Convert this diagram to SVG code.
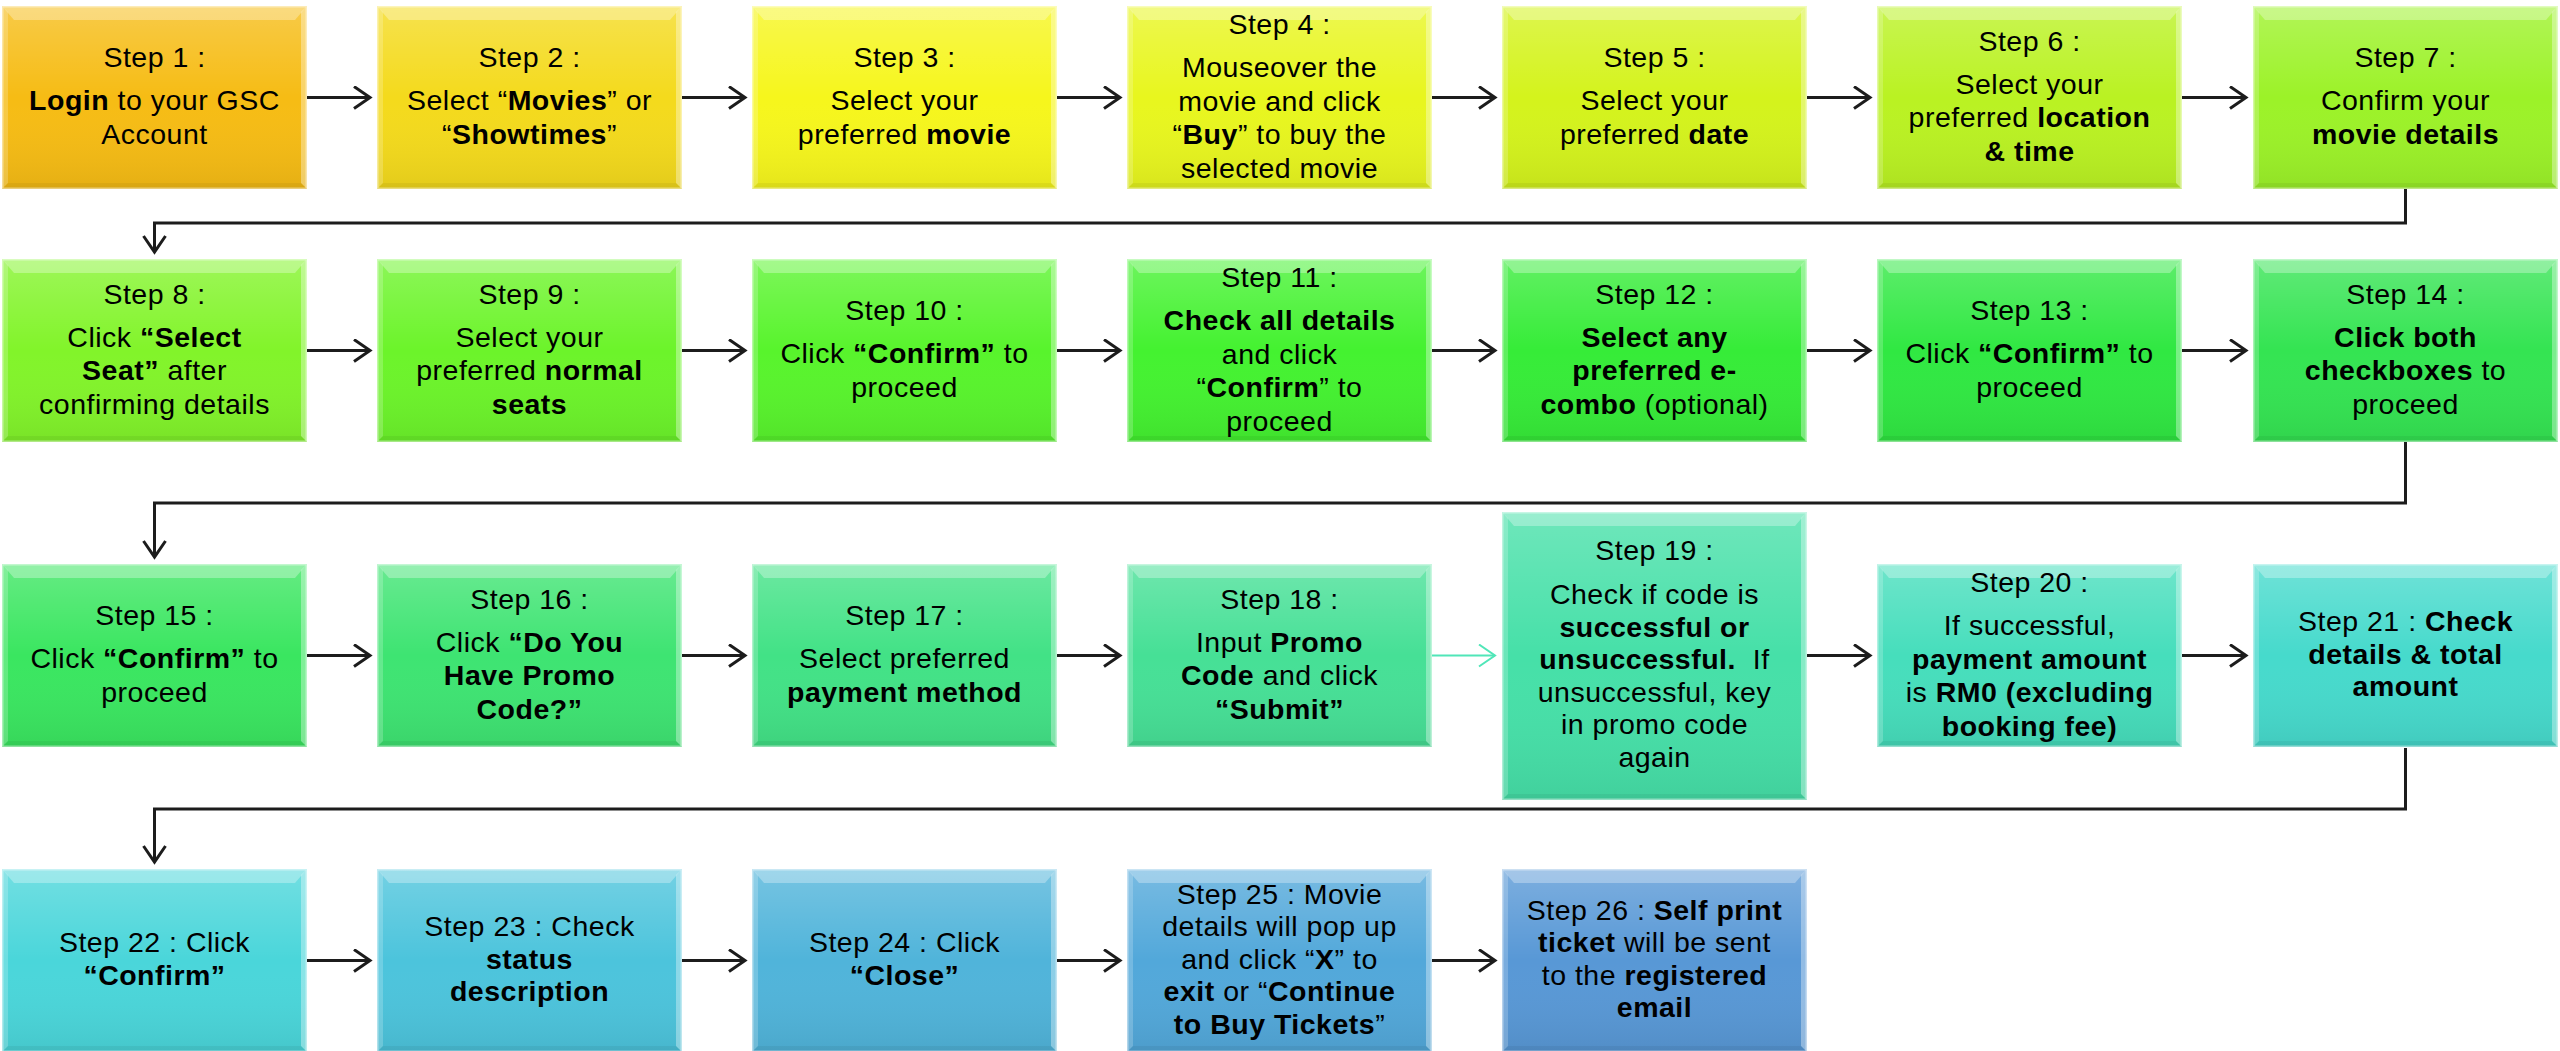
<svg xmlns="http://www.w3.org/2000/svg" xmlns:xlink="http://www.w3.org/1999/xlink" width="2560" height="1051" viewBox="0 0 2560 1051">
<defs>
<style>
.t{font-family:"Liberation Sans",Arial,sans-serif;font-size:28.5px;letter-spacing:0.5px;fill:#000;text-anchor:middle}
.b{font-weight:700}
.conn{fill:none;stroke:#1c1c1c;stroke-width:3}
.conn2{fill:none;stroke:#50e6b8;stroke-width:2}
</style>
<linearGradient id="shade" x1="0" y1="0" x2="0" y2="1">
<stop offset="0" stop-color="#fff" stop-opacity="0.22"/>
<stop offset="0.5" stop-color="#fff" stop-opacity="0"/>
<stop offset="1" stop-color="#000" stop-opacity="0.07"/>
</linearGradient>
<g id="bev">
<rect width="305" height="183" fill="url(#shade)"/>
<polygon points="0,0 305,0 293,14 12,14" fill="#fff" fill-opacity="0.3"/>
<polygon points="0,0 6,6 6,177 0,183" fill="#fff" fill-opacity="0.2"/>
<polygon points="305,0 299,6 299,177 305,183" fill="#fff" fill-opacity="0.35"/>
<polygon points="0,183 6,177 299,177 305,183" fill="#000" fill-opacity="0.05"/>
<rect x="0.75" y="0.75" width="303.5" height="181.5" fill="none" stroke="#fff" stroke-opacity="0.45" stroke-width="1.5"/>
</g>
<g id="bev2">
<rect width="305" height="288" fill="url(#shade)"/>
<polygon points="0,0 305,0 293,14 12,14" fill="#fff" fill-opacity="0.3"/>
<polygon points="0,0 6,6 6,282 0,288" fill="#fff" fill-opacity="0.2"/>
<polygon points="305,0 299,6 299,282 305,288" fill="#fff" fill-opacity="0.35"/>
<polygon points="0,288 6,282 299,282 305,288" fill="#000" fill-opacity="0.05"/>
<rect x="0.75" y="0.75" width="303.5" height="286.5" fill="none" stroke="#fff" stroke-opacity="0.45" stroke-width="1.5"/>
</g>
<marker id="ah" markerUnits="userSpaceOnUse" markerWidth="20" markerHeight="26" viewBox="0 0 20 26" refX="17" refY="12" orient="auto">
<path d="M1,1 L17,12 L1,23" fill="none" stroke="#1c1c1c" stroke-width="3"/>
</marker>
<marker id="ah2" markerUnits="userSpaceOnUse" markerWidth="20" markerHeight="26" viewBox="0 0 20 26" refX="17" refY="12" orient="auto">
<path d="M1,1 L17,12 L1,23" fill="none" stroke="#50e6b8" stroke-width="2"/>
</marker>
</defs>
<rect width="2560" height="1051" fill="#fff"/>

<g id="connectors">
<path class="conn" marker-end="url(#ah)" d="M307,97.5 H370"/>
<path class="conn" marker-end="url(#ah)" d="M682,97.5 H745"/>
<path class="conn" marker-end="url(#ah)" d="M1057,97.5 H1120"/>
<path class="conn" marker-end="url(#ah)" d="M1432,97.5 H1495"/>
<path class="conn" marker-end="url(#ah)" d="M1807,97.5 H1870"/>
<path class="conn" marker-end="url(#ah)" d="M2182,97.5 H2246"/>
<path class="conn" marker-end="url(#ah)" d="M2405.5,189 V223 H154.5 V252"/>
<path class="conn" marker-end="url(#ah)" d="M307,350.5 H370"/>
<path class="conn" marker-end="url(#ah)" d="M682,350.5 H745"/>
<path class="conn" marker-end="url(#ah)" d="M1057,350.5 H1120"/>
<path class="conn" marker-end="url(#ah)" d="M1432,350.5 H1495"/>
<path class="conn" marker-end="url(#ah)" d="M1807,350.5 H1870"/>
<path class="conn" marker-end="url(#ah)" d="M2182,350.5 H2246"/>
<path class="conn" marker-end="url(#ah)" d="M2405.5,442 V503 H154.5 V557"/>
<path class="conn" marker-end="url(#ah)" d="M307,655.5 H370"/>
<path class="conn" marker-end="url(#ah)" d="M682,655.5 H745"/>
<path class="conn" marker-end="url(#ah)" d="M1057,655.5 H1120"/>
<path class="conn2" marker-end="url(#ah2)" d="M1432,655.5 H1495"/>
<path class="conn" marker-end="url(#ah)" d="M1807,655.5 H1870"/>
<path class="conn" marker-end="url(#ah)" d="M2182,655.5 H2246"/>
<path class="conn" marker-end="url(#ah)" d="M2405.5,748 V809 H154.5 V862"/>
<path class="conn" marker-end="url(#ah)" d="M307,960.5 H370"/>
<path class="conn" marker-end="url(#ah)" d="M682,960.5 H745"/>
<path class="conn" marker-end="url(#ah)" d="M1057,960.5 H1120"/>
<path class="conn" marker-end="url(#ah)" d="M1432,960.5 H1495"/>
</g>

<g id="step1" transform="translate(2,6)">
<rect width="305" height="183" fill="#f6bc14"/><use xlink:href="#bev"/>
<text class="t" x="152.5" y="61">Step 1 :</text>
<text class="t" x="152.5" y="104"><tspan class="b">Login</tspan> to your GSC</text>
<text class="t" x="152.5" y="138">Account</text>
</g>
<g id="step2" transform="translate(377,6)">
<rect width="305" height="183" fill="#f4da1c"/><use xlink:href="#bev"/>
<text class="t" x="152.5" y="61">Step 2 :</text>
<text class="t" x="152.5" y="104">Select “<tspan class="b">Movies</tspan>” or</text>
<text class="t" x="152.5" y="138">“<tspan class="b">Showtimes</tspan>”</text>
</g>
<g id="step3" transform="translate(752,6)">
<rect width="305" height="183" fill="#f6f61c"/><use xlink:href="#bev"/>
<text class="t" x="152.5" y="61">Step 3 :</text>
<text class="t" x="152.5" y="104">Select your</text>
<text class="t" x="152.5" y="138">preferred <tspan class="b">movie</tspan></text>
</g>
<g id="step4" transform="translate(1127,6)">
<rect width="305" height="183" fill="#e8f61e"/><use xlink:href="#bev"/>
<text class="t" x="152.5" y="28">Step 4 :</text>
<text class="t" x="152.5" y="71">Mouseover the</text>
<text class="t" x="152.5" y="104.5">movie and click</text>
<text class="t" x="152.5" y="138">“<tspan class="b">Buy</tspan>” to buy the</text>
<text class="t" x="152.5" y="171.5">selected movie</text>
</g>
<g id="step5" transform="translate(1502,6)">
<rect width="305" height="183" fill="#d4f31c"/><use xlink:href="#bev"/>
<text class="t" x="152.5" y="61">Step 5 :</text>
<text class="t" x="152.5" y="104">Select your</text>
<text class="t" x="152.5" y="138">preferred <tspan class="b">date</tspan></text>
</g>
<g id="step6" transform="translate(1877,6)">
<rect width="305" height="183" fill="#baf222"/><use xlink:href="#bev"/>
<text class="t" x="152.5" y="44.5">Step 6 :</text>
<text class="t" x="152.5" y="87.5">Select your</text>
<text class="t" x="152.5" y="121">preferred <tspan class="b">location</tspan></text>
<text class="t" x="152.5" y="154.5"><tspan class="b">&amp; time</tspan></text>
</g>
<g id="step7" transform="translate(2253,6)">
<rect width="305" height="183" fill="#9cf228"/><use xlink:href="#bev"/>
<text class="t" x="152.5" y="61">Step 7 :</text>
<text class="t" x="152.5" y="104">Confirm your</text>
<text class="t" x="152.5" y="138"><tspan class="b">movie details</tspan></text>
</g>

<g id="step8" transform="translate(2,259)">
<rect width="305" height="183" fill="#82f42a"/><use xlink:href="#bev"/>
<text class="t" x="152.5" y="44.5">Step 8 :</text>
<text class="t" x="152.5" y="87.5">Click <tspan class="b">“Select</tspan></text>
<text class="t" x="152.5" y="121"><tspan class="b">Seat”</tspan> after</text>
<text class="t" x="152.5" y="154.5">confirming details</text>
</g>
<g id="step9" transform="translate(377,259)">
<rect width="305" height="183" fill="#6cf42a"/><use xlink:href="#bev"/>
<text class="t" x="152.5" y="44.5">Step 9 :</text>
<text class="t" x="152.5" y="87.5">Select your</text>
<text class="t" x="152.5" y="121">preferred <tspan class="b">normal</tspan></text>
<text class="t" x="152.5" y="154.5"><tspan class="b">seats</tspan></text>
</g>
<g id="step10" transform="translate(752,259)">
<rect width="305" height="183" fill="#58f42c"/><use xlink:href="#bev"/>
<text class="t" x="152.5" y="61">Step 10 :</text>
<text class="t" x="152.5" y="104">Click <tspan class="b">“Confirm”</tspan> to</text>
<text class="t" x="152.5" y="138">proceed</text>
</g>
<g id="step11" transform="translate(1127,259)">
<rect width="305" height="183" fill="#44f230"/><use xlink:href="#bev"/>
<text class="t" x="152.5" y="28">Step 11 :</text>
<text class="t" x="152.5" y="71"><tspan class="b">Check all details</tspan></text>
<text class="t" x="152.5" y="104.5">and click</text>
<text class="t" x="152.5" y="138">“<tspan class="b">Confirm</tspan>” to</text>
<text class="t" x="152.5" y="171.5">proceed</text>
</g>
<g id="step12" transform="translate(1502,259)">
<rect width="305" height="183" fill="#36ec38"/><use xlink:href="#bev"/>
<text class="t" x="152.5" y="44.5">Step 12 :</text>
<text class="t" x="152.5" y="87.5"><tspan class="b">Select any</tspan></text>
<text class="t" x="152.5" y="121"><tspan class="b">preferred e-</tspan></text>
<text class="t" x="152.5" y="154.5"><tspan class="b">combo</tspan> (optional)</text>
</g>
<g id="step13" transform="translate(1877,259)">
<rect width="305" height="183" fill="#30e842"/><use xlink:href="#bev"/>
<text class="t" x="152.5" y="61">Step 13 :</text>
<text class="t" x="152.5" y="104">Click <tspan class="b">“Confirm”</tspan> to</text>
<text class="t" x="152.5" y="138">proceed</text>
</g>
<g id="step14" transform="translate(2253,259)">
<rect width="305" height="183" fill="#34e452"/><use xlink:href="#bev"/>
<text class="t" x="152.5" y="44.5">Step 14 :</text>
<text class="t" x="152.5" y="87.5"><tspan class="b">Click both</tspan></text>
<text class="t" x="152.5" y="121"><tspan class="b">checkboxes</tspan> to</text>
<text class="t" x="152.5" y="154.5">proceed</text>
</g>

<g id="step15" transform="translate(2,564)">
<rect width="305" height="183" fill="#3ae660"/><use xlink:href="#bev"/>
<text class="t" x="152.5" y="61">Step 15 :</text>
<text class="t" x="152.5" y="104">Click <tspan class="b">“Confirm”</tspan> to</text>
<text class="t" x="152.5" y="138">proceed</text>
</g>
<g id="step16" transform="translate(377,564)">
<rect width="305" height="183" fill="#3ee472"/><use xlink:href="#bev"/>
<text class="t" x="152.5" y="44.5">Step 16 :</text>
<text class="t" x="152.5" y="87.5">Click <tspan class="b">“Do You</tspan></text>
<text class="t" x="152.5" y="121"><tspan class="b">Have Promo</tspan></text>
<text class="t" x="152.5" y="154.5"><tspan class="b">Code?”</tspan></text>
</g>
<g id="step17" transform="translate(752,564)">
<rect width="305" height="183" fill="#42e286"/><use xlink:href="#bev"/>
<text class="t" x="152.5" y="61">Step 17 :</text>
<text class="t" x="152.5" y="104">Select preferred</text>
<text class="t" x="152.5" y="138"><tspan class="b">payment method</tspan></text>
</g>
<g id="step18" transform="translate(1127,564)">
<rect width="305" height="183" fill="#46e096"/><use xlink:href="#bev"/>
<text class="t" x="152.5" y="44.5">Step 18 :</text>
<text class="t" x="152.5" y="87.5">Input <tspan class="b">Promo</tspan></text>
<text class="t" x="152.5" y="121"><tspan class="b">Code</tspan> and click</text>
<text class="t" x="152.5" y="154.5"><tspan class="b">“Submit”</tspan></text>
</g>
<g id="step19" transform="translate(1502,512)">
<rect width="305" height="288" fill="#46e0a8"/><use xlink:href="#bev2"/>
<text class="t" x="152.5" y="48">Step 19 :</text>
<text class="t" x="152.5" y="92">Check if code is</text>
<text class="t" x="152.5" y="124.5"><tspan class="b">successful or</tspan></text>
<text class="t" x="152.5" y="157"><tspan class="b">unsuccessful.</tspan>&#160; If</text>
<text class="t" x="152.5" y="189.5">unsuccessful, key</text>
<text class="t" x="152.5" y="222">in promo code</text>
<text class="t" x="152.5" y="254.5">again</text>
</g>
<g id="step20" transform="translate(1877,564)">
<rect width="305" height="183" fill="#46debc"/><use xlink:href="#bev"/>
<text class="t" x="152.5" y="28">Step 20 :</text>
<text class="t" x="152.5" y="71">If successful,</text>
<text class="t" x="152.5" y="104.5"><tspan class="b">payment amount</tspan></text>
<text class="t" x="152.5" y="138">is <tspan class="b">RM0 (excluding</tspan></text>
<text class="t" x="152.5" y="171.5"><tspan class="b">booking fee)</tspan></text>
</g>
<g id="step21" transform="translate(2253,564)">
<rect width="305" height="183" fill="#46dacc"/><use xlink:href="#bev"/>
<text class="t" x="152.5" y="67">Step 21 : <tspan class="b">Check</tspan></text>
<text class="t" x="152.5" y="99.5"><tspan class="b">details &amp; total</tspan></text>
<text class="t" x="152.5" y="132"><tspan class="b">amount</tspan></text>
</g>

<g id="step22" transform="translate(2,869)">
<rect width="305" height="183" fill="#4ad6da"/><use xlink:href="#bev"/>
<text class="t" x="152.5" y="83.25">Step 22 : Click</text>
<text class="t" x="152.5" y="115.75"><tspan class="b">“Confirm”</tspan></text>
</g>
<g id="step23" transform="translate(377,869)">
<rect width="305" height="183" fill="#4cc4dc"/><use xlink:href="#bev"/>
<text class="t" x="152.5" y="67">Step 23 : Check</text>
<text class="t" x="152.5" y="99.5"><tspan class="b">status</tspan></text>
<text class="t" x="152.5" y="132"><tspan class="b">description</tspan></text>
</g>
<g id="step24" transform="translate(752,869)">
<rect width="305" height="183" fill="#50b4da"/><use xlink:href="#bev"/>
<text class="t" x="152.5" y="83.25">Step 24 : Click</text>
<text class="t" x="152.5" y="115.75"><tspan class="b">“Close”</tspan></text>
</g>
<g id="step25" transform="translate(1127,869)">
<rect width="305" height="183" fill="#52a8da"/><use xlink:href="#bev"/>
<text class="t" x="152.5" y="34.5">Step 25 : Movie</text>
<text class="t" x="152.5" y="67">details will pop up</text>
<text class="t" x="152.5" y="99.5">and click “<tspan class="b">X</tspan>” to</text>
<text class="t" x="152.5" y="132"><tspan class="b">exit</tspan> or “<tspan class="b">Continue</tspan></text>
<text class="t" x="152.5" y="164.5"><tspan class="b">to Buy Tickets</tspan>”</text>
</g>
<g id="step26" transform="translate(1502,869)">
<rect width="305" height="183" fill="#5898d6"/><use xlink:href="#bev"/>
<text class="t" x="152.5" y="50.75">Step 26 : <tspan class="b">Self print</tspan></text>
<text class="t" x="152.5" y="83.25"><tspan class="b">ticket</tspan> will be sent</text>
<text class="t" x="152.5" y="115.75">to the <tspan class="b">registered</tspan></text>
<text class="t" x="152.5" y="148.25"><tspan class="b">email</tspan></text>
</g>
</svg>
